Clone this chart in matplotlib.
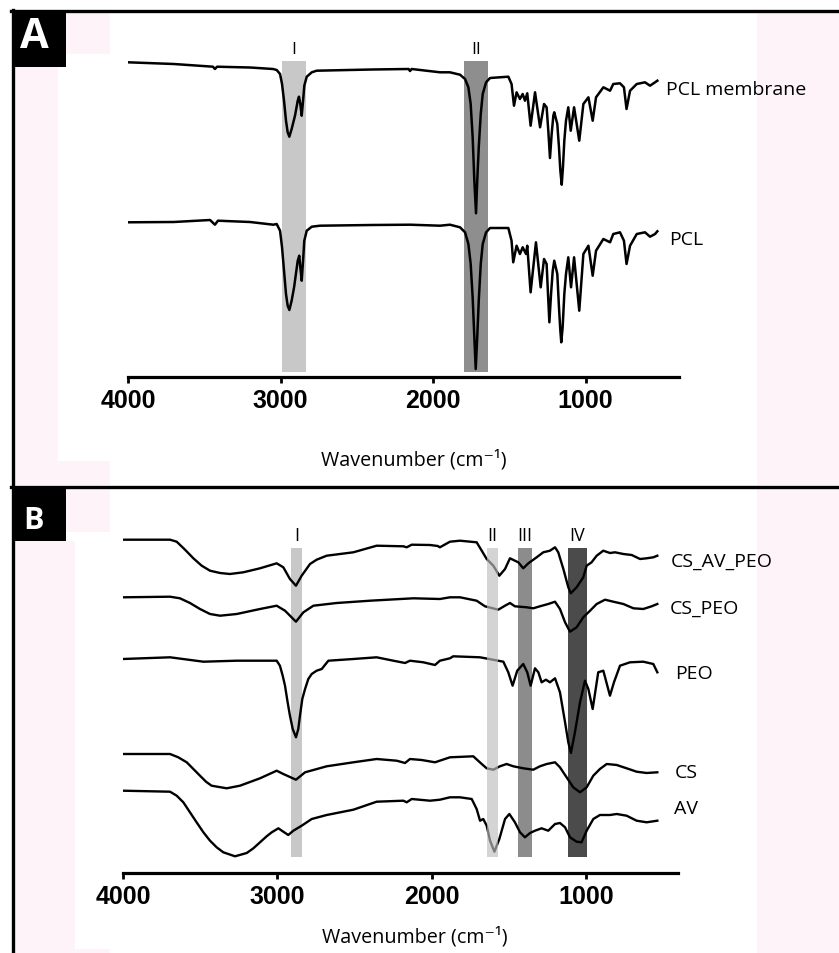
import matplotlib
matplotlib.use('Agg')
import matplotlib.pyplot as plt
from matplotlib.patches import Rectangle
from matplotlib.lines import Line2D

# ---- data (wavenumber cm-1, transmittance a.u. incl. stacking offset) ----
# panel A
pcl_membrane = [(4000, 314.7), (3700, 313), (3443, 310.3), (3430, 308), (3416, 310.3), (3200, 309.5),
                (3049, 308), (3025, 307), (3003, 303), (2990, 293), (2977, 276.3), (2964, 256.3),
                (2953, 244.7), (2942, 240.3), (2927, 248), (2905, 261.3), (2887, 276.3), (2879, 280.3),
                (2870, 273), (2861, 261.3), (2852, 276.3), (2844, 291.3), (2828, 300.3), (2795, 304.7),
                (2763, 306.3), (2400, 307.5), (2160, 308), (2151, 306), (2140, 308), (1954, 304.7),
                (1889, 304.7), (1823, 302.3), (1790, 298), (1768, 289.7), (1753, 273), (1740, 239.7),
                (1729, 196.3), (1718, 163.7), (1710, 196.3), (1700, 229.7), (1687, 263), (1674, 283),
                (1652, 294.7), (1626, 299), (1506, 300.3), (1485, 293), (1469, 271.3), (1452, 284.7),
                (1430, 278), (1412, 283), (1397, 276.3), (1382, 283.7), (1360, 251.3), (1331, 284.7),
                (1298, 249.7), (1272, 273), (1255, 269.7), (1244, 246.3), (1233, 219), (1222, 243),
                (1211, 261.3), (1205, 264.7), (1185, 253), (1174, 229.7), (1165, 206.3), (1156, 192.3),
                (1148, 209.7), (1139, 236.3), (1128, 256.3), (1113, 269.7), (1097, 246.3), (1075, 269.7),
                (1041, 236.3), (1014, 273), (981, 279.7), (953, 256.3), (931, 279.7), (883, 289.7),
                (839, 286.3), (818, 293), (774, 293.7), (748, 289.7), (731, 268), (708, 286.3),
                (664, 293), (610, 294.7), (577, 291.3), (544, 294.7), (529, 296.3)]
pcl = [(4000, 154.7), (3700, 155), (3462, 157), (3430, 152.3), (3410, 156.3), (3200, 155),
       (3047, 152.3), (3025, 153), (3003, 146.3), (2990, 129.7), (2977, 106.3), (2964, 83),
       (2953, 71.3), (2942, 67), (2927, 76.3), (2911, 89.7), (2887, 116.3), (2877, 121.3),
       (2870, 109.7), (2861, 96.3), (2852, 116.3), (2844, 136.3), (2828, 146.3), (2795, 150.3),
       (2741, 151.3), (2400, 152), (2150, 152.3), (1954, 151.3), (1889, 152.3), (1823, 149.7),
       (1790, 144.7), (1768, 133), (1753, 113), (1740, 79.7), (1729, 39.7), (1720, 8),
       (1710, 39.7), (1700, 76.3), (1687, 113), (1674, 133), (1652, 144.7), (1626, 149),
       (1506, 149), (1485, 136.3), (1474, 114.7), (1452, 131.3), (1430, 123), (1412, 129.7),
       (1390, 123), (1382, 131.3), (1360, 84.7), (1325, 134.7), (1294, 89.7), (1272, 118),
       (1255, 113), (1246, 83), (1237, 54.7), (1226, 83), (1215, 106.3), (1205, 116.3),
       (1185, 103), (1174, 69.7), (1165, 46.3), (1159, 34.7), (1150, 49.7), (1139, 83),
       (1128, 103), (1113, 119.7), (1095, 89.7), (1075, 119.7), (1041, 66.3), (1014, 123),
       (981, 131.3), (953, 101.3), (931, 126.3), (883, 138), (839, 134.7), (818, 143),
       (774, 144.7), (748, 136.3), (731, 113), (708, 131.3), (664, 143), (610, 144.7),
       (577, 140.3), (544, 143), (529, 145.7)]

# panel B
cs_av_peo = [(4000, 333.3), (3695, 333.3), (3652, 331.3), (3598, 323.3), (3544, 314.7), (3490, 307.3),
             (3436, 302.3), (3371, 300), (3307, 299), (3220, 300.7), (3112, 304.7), (3004, 309.7),
             (2961, 305.7), (2918, 294), (2879, 287.3), (2842, 297.3), (2788, 309), (2745, 313.3),
             (2680, 317.3), (2507, 320.7), (2356, 327.3), (2183, 326.7), (2161, 325.7), (2129, 328.3),
             (2010, 328), (1960, 327), (1946, 325.7), (1881, 331.3), (1816, 332.3), (1708, 330.7),
             (1675, 322.3), (1643, 314), (1600, 307.3), (1561, 297.3), (1524, 304), (1492, 314.7),
             (1460, 312.3), (1438, 310.7), (1406, 304.7), (1373, 309.7), (1319, 315.7), (1276, 320.7),
             (1233, 322.3), (1200, 325.7), (1179, 320.7), (1146, 304), (1114, 285.7), (1098, 279.7),
             (1060, 285.7), (1017, 295.7), (995, 307.3), (963, 310.7), (930, 317.3), (887, 322.3),
             (844, 320), (811, 320.7), (757, 319), (703, 318), (649, 314), (606, 314.7),
             (563, 315.7), (537, 317.3)]
cs_peo = [(4000, 275.7), (3695, 276.3), (3631, 274.7), (3566, 270), (3501, 264), (3436, 259),
          (3371, 257.3), (3263, 259), (3112, 264), (3004, 267.3), (2950, 262.3), (2879, 251.3),
          (2831, 260.7), (2766, 267.3), (2615, 270), (2399, 272.3), (2118, 274.7), (1946, 274),
          (1881, 275.7), (1816, 275.7), (1708, 272.3), (1654, 266.7), (1611, 265), (1568, 263.3),
          (1524, 267.3), (1492, 270), (1460, 266.7), (1384, 265.7), (1341, 264.7), (1298, 266.7),
          (1244, 269), (1200, 271.3), (1168, 264), (1135, 250.7), (1103, 241.3), (1060, 245.7),
          (1017, 255.7), (973, 262.3), (930, 269), (876, 273.3), (822, 271.3), (757, 269),
          (692, 264.7), (628, 264), (574, 266.7), (537, 269)]
peo = [(4000, 214), (3695, 215.7), (3479, 211.3), (3263, 212.3), (3004, 212.3), (2983, 207.3),
       (2965, 197.3), (2950, 187.3), (2933, 170.7), (2918, 157.3), (2900, 144), (2879, 135.7),
       (2864, 144), (2853, 157.3), (2838, 174), (2820, 184), (2799, 194), (2777, 199),
       (2745, 202.3), (2712, 204), (2669, 212.3), (2507, 214), (2356, 215.7), (2248, 212.3),
       (2172, 210), (2140, 212.3), (2054, 210.7), (1978, 208), (1946, 212.3), (1881, 214.7),
       (1860, 216.7), (1686, 215.7), (1535, 211.3), (1503, 200.7), (1475, 187.3), (1445, 202.3),
       (1406, 209), (1380, 200.7), (1358, 187.3), (1330, 204.7), (1308, 200.7), (1287, 190.7),
       (1259, 193.3), (1233, 190.7), (1200, 194.7), (1168, 180.7), (1135, 150.7), (1114, 130.7),
       (1097, 120), (1071, 140.7), (1038, 170.7), (1006, 192.3), (984, 184), (956, 164),
       (920, 200.7), (887, 202.3), (844, 177.3), (818, 190.7), (779, 207.3), (714, 210.7),
       (628, 211.3), (563, 209), (537, 200.7)]
cs = [(4000, 119), (3695, 119), (3642, 115.7), (3587, 110.7), (3544, 104), (3501, 97.3),
      (3462, 91.3), (3426, 87.3), (3328, 84.7), (3242, 87.3), (3112, 94.7), (3004, 102.3),
      (2961, 99), (2879, 93.3), (2820, 100.7), (2680, 106.7), (2507, 110.7), (2356, 114),
      (2226, 112.3), (2172, 110), (2140, 114), (2064, 113), (1978, 110.7), (1881, 115.7),
      (1730, 116.7), (1675, 109), (1643, 104.7), (1600, 103.3), (1557, 106.7), (1514, 109),
      (1470, 106.7), (1406, 104.7), (1341, 103.3), (1298, 106.7), (1254, 109), (1200, 110.7),
      (1168, 105.7), (1125, 95.7), (1082, 85.7), (1038, 80.7), (995, 85.7), (952, 97.3),
      (909, 104), (865, 109), (800, 108), (736, 104.7), (671, 101.3), (606, 100), (537, 100.7)]
av = [(4000, 82.3), (3695, 81.3), (3652, 77.3), (3609, 70.7), (3566, 60.7), (3523, 50.7),
      (3479, 40.7), (3436, 32.3), (3393, 25.7), (3350, 20.7), (3274, 16.7), (3198, 20),
      (3155, 24.7), (3112, 30.7), (3069, 36.7), (3036, 40.7), (2993, 44.7), (2961, 41.3),
      (2929, 38), (2896, 42.3), (2842, 47.3), (2777, 54), (2680, 58), (2507, 63.3),
      (2356, 71.3), (2183, 72.3), (2161, 70.7), (2129, 74), (2010, 72.3), (1946, 73.3),
      (1881, 75.7), (1816, 75.7), (1740, 74), (1708, 64), (1686, 52.3), (1665, 54),
      (1643, 47.3), (1621, 32.3), (1593, 21.3), (1561, 34), (1524, 54), (1496, 59),
      (1460, 50.7), (1427, 40.7), (1395, 35.7), (1362, 40), (1330, 42.3), (1287, 44.7),
      (1244, 42.3), (1200, 49), (1168, 50), (1135, 45.7), (1103, 35.7), (1060, 31.3),
      (1028, 30.7), (995, 42.3), (952, 54), (909, 58), (844, 58), (800, 59),
      (736, 57.3), (671, 52.3), (606, 50.7), (537, 52.3)]

series_a = [('PCL membrane', pcl_membrane, (472, 288)), ('PCL', pcl, (452, 138))]
series_b = [('CS_AV_PEO', cs_av_peo, (448, 312)), ('CS_PEO', cs_peo, (455, 265)),
            ('PEO', peo, (423, 200)), ('CS', cs, (423, 101)), ('AV', av, (429, 65))]

# shaded regions: label, high wn, low wn, colour
bands_a = [('I', 2990, 2835, '#c8c8c8'), ('II', 1800, 1640, '#8e8e8e')]
bands_b = [('I', 2910, 2840, '#c8c8c8'), ('II', 1640, 1570, '#bdbdbd'),
           ('III', 1440, 1350, '#8c8c8c'), ('IV', 1115, 995, '#4b4b4b')]

ticks = [4000, 3000, 2000, 1000]

W, H = 839, 954
PINK = '#fdf3f8'
TXT = ['Open Sans', 'DejaVu Sans']

fig = plt.figure(figsize=(W / 100, H / 100), dpi=100)
fig.patch.set_facecolor('white')


def px_rect(x0, y0, x1, y1, color, z):
    return Rectangle((x0 / W, 1 - y1 / H), (x1 - x0) / W, (y1 - y0) / H,
                     transform=fig.transFigure, facecolor=color, edgecolor='none', zorder=z)


# pinkish background strips of the original scan
for r in [(14, 68, 58, 462), (14, 462, 110, 486), (66, 14, 110, 55), (757, 14, 839, 486),
          (66, 490, 110, 533), (14, 542, 75, 950), (14, 950, 110, 954), (757, 490, 839, 954)]:
    fig.patches.append(px_rect(*r, PINK, -2))

# frame lines
for xs, ys in [((13, 13), (11, 954)), ((11, 839), (12, 12)), ((11, 839), (487.5, 487.5))]:
    fig.add_artist(Line2D([x / W for x in xs], [1 - y / H for y in ys], color='black',
                          lw=2.4, transform=fig.transFigure, zorder=1))

# panel letters
for (x0, y0, x1, y1), letter, fs, cy in [((12, 12, 66, 68), 'A', 30, 38), ((12, 490, 66, 542), 'B', 22, 521)]:
    fig.patches.append(px_rect(x0, y0, x1, y1, 'black', 1))
    fig.text(34 / W, 1 - cy / H, letter, color='white', fontsize=fs, fontweight='bold',
             family=TXT, ha='center', va='center', zorder=2)


def setup_axis(ax, xmax_wn, ymax):
    ax.set_facecolor('none')
    ax.set_xlim(4000, xmax_wn)
    ax.set_ylim(0, ymax)
    for s in ['left', 'right', 'top']:
        ax.spines[s].set_visible(False)
    ax.spines['bottom'].set_linewidth(2.3)
    ax.set_yticks([])
    ax.set_xticks(ticks)
    ax.set_xticklabels([str(t) for t in ticks], family='Liberation Sans', fontweight='bold', fontsize=18)
    ax.tick_params(axis='x', direction='out', length=4, width=2, pad=4)


axA = fig.add_axes([128 / W, 1 - 378 / H, (679 - 128) / W, (378 - 40) / H])
setup_axis(axA, 387, 338)
for name, band_hi, band_lo, col in bands_a:
    axA.axvspan(band_hi, band_lo, ymin=5 / 338, ymax=316 / 338, color=col, lw=0, zorder=1)
    axA.text((band_hi + band_lo) / 2, 328, name, ha='center', va='center', fontsize=12.5, family=TXT)
for name, pts, (lx, ly) in series_a:
    axA.plot([p[0] for p in pts], [p[1] for p in pts], color='black', lw=1.8, zorder=2)
    axA.text(lx, ly, name, ha='left', va='center', fontsize=14, family=TXT)
fig.text(414 / W, 1 - 460 / H, 'Wavenumber (cm⁻¹)', ha='center', va='center', fontsize=14.2, family=TXT)

axB = fig.add_axes([123 / W, 1 - 874 / H, (678 - 123) / W, (874 - 520) / H])
setup_axis(axB, 403, 354)
for name, band_hi, band_lo, col in bands_b:
    if name == 'II':
        axB.axvspan(band_hi, band_lo, ymin=16 / 354, ymax=325 / 354, color=col, alpha=0.65, lw=0, zorder=3)
    else:
        axB.axvspan(band_hi, band_lo, ymin=16 / 354, ymax=325 / 354, color=col, lw=0, zorder=1)
    axB.text((band_hi + band_lo) / 2, 338, name, ha='center', va='center', fontsize=13, family=TXT)
for name, pts, (lx, ly) in series_b:
    axB.plot([p[0] for p in pts], [p[1] for p in pts], color='black', lw=1.7, zorder=2)
    axB.text(lx, ly, name, ha='left', va='center', fontsize=14, family=TXT)
fig.text(415 / W, 1 - 937 / H, 'Wavenumber (cm⁻¹)', ha='center', va='center', fontsize=14.2, family=TXT)

fig.savefig('out.png', dpi=100)
